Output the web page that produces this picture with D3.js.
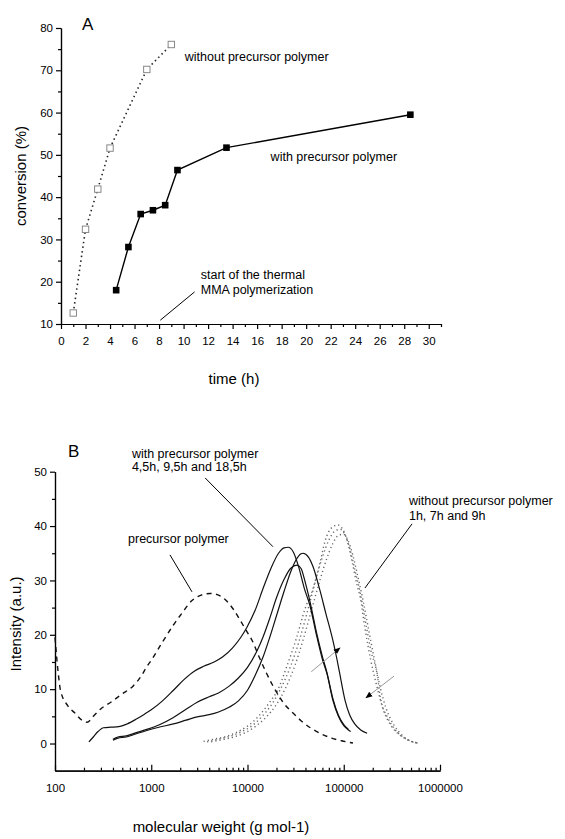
<!DOCTYPE html>
<html>
<head>
<meta charset="utf-8">
<script src="https://cdn.jsdelivr.net/npm/d3@7"></script>
<style>
body { margin: 0; background: #fff; }
svg { display: block; font-family: "Liberation Sans", Arial, sans-serif; }
.axis path, .axis line { stroke: #000; stroke-width: 1.2; }
.axis text { font-size: 11.5px; fill: #000; font-family: "Liberation Sans", Arial, sans-serif; }
.note { font-size: 12.5px; fill: #000; }
.title { font-size: 15px; fill: #000; }
</style>
</head>
<body>
<div id="chart"></div>
<script>
// ---- panel A: conversion vs time ----
var timeWithout = [1, 2, 3, 4, 7, 9];
var convWithout = [12.6, 32.4, 41.9, 51.6, 70.2, 76.1];
var timeWith = [4.5, 5.5, 6.5, 7.5, 8.5, 9.5, 13.5, 28.5];
var convWith = [18, 28.2, 36, 36.9, 38.1, 46.4, 51.7, 59.5];
var timeMajor = d3.range(0, 31, 2);
var timeMinor = d3.range(1, 32, 2);
var convMajor = d3.range(10, 81, 10);
var convMinor = d3.range(15, 80, 10);

// ---- panel B: GPC traces (molecular weight, intensity) ----
var precursor = [[100,19.5],[108,13],[114,9.8],[135,7],[161,5.6],[190,4.3],[215,3.9],[250,5],[300,6.4],[380,7.6],[496,9.1],[650,10.6],[800,12.6],[903,14.2],[1000,15.3],[1300,18.6],[1700,21.8],[2089,24],[2650,26.3],[3300,27.3],[4100,27.6],[5000,27.3],[6000,26.3],[7200,24.6],[8500,22.5],[10000,20.4],[11140,19],[13000,16.2],[15500,13.2],[18000,10.9],[20270,9.3],[24000,7.3],[29000,5.8],[36000,4.2],[45000,2.9],[58000,1.8],[75000,1],[95000,0.5],[124700,0.1]];
var with45 = [[225,0.3],[250,1.2],[280,2.2],[320,2.9],[380,3.0],[460,3.1],[560,3.6],[700,4.5],[850,5.4],[1000,6.2],[1300,7.8],[1700,9.8],[2200,11.8],[2800,13.3],[3500,14.2],[4500,15.0],[5500,15.9],[7000,17.6],[8500,19.5],[9870,21.4],[12000,24.5],[14500,28.5],[17500,32.2],[21000,35.0],[24000,36.0],[26500,36.1],[30000,35.2],[34000,32.5],[39000,28.5],[44800,25.2],[52000,20],[60000,15.5],[67000,12.8],[77000,8],[88000,5],[100000,3.3],[112000,2.5],[118000,2.2]];
var with95 = [[400,0.8],[450,1.2],[550,1.4],[700,2.0],[900,2.6],[1200,3.4],[1700,4.8],[2300,6.3],[3000,7.6],[4000,8.6],[5000,9.3],[6500,10.6],[8000,12.0],[10000,14.0],[12600,17.1],[14500,19.6],[17000,23],[20000,26.8],[24000,30.2],[28000,32.2],[32700,32.8],[36000,32.2],[40000,29.5],[45000,25.8],[52000,20.5],[60000,16],[67000,13],[77000,8.3],[88000,5.2],[100000,3.5],[112000,2.6]];
var with185 = [[400,0.6],[450,1.0],[550,1.2],[700,1.8],[900,2.4],[1200,3.0],[1700,3.6],[2300,4.3],[3000,4.9],[4000,5.3],[5000,5.8],[6500,6.7],[8000,7.8],[10000,9.8],[12000,12.5],[14500,15.9],[17000,19.5],[20000,23.5],[24000,28],[28000,31.5],[32000,33.8],[36000,34.9],[37700,35.0],[43000,34.3],[48000,32.5],[56500,28.2],[65000,24],[77000,19],[85000,15.5],[91000,12.8],[103000,8],[115000,5.3],[130000,3.6],[150000,2.5],[175000,1.9]];
var without1 = [[3500,0.4],[4500,0.8],[6000,1.3],[8000,2.2],[10000,3.2],[13000,5.0],[17000,7.6],[20270,9.6],[26000,14.5],[32000,19.2],[40000,25],[47900,28.5],[57000,33.5],[63900,37.2],[76000,39.8],[87500,40.2],[96000,39.6],[108000,37.5],[122000,33.5],[138000,29],[148000,27],[165000,21.5],[190000,15.5],[221000,10.5],[260000,6],[310000,3.3],[380000,1.6],[470000,0.6],[580000,0.1]];
var without7 = [[3800,0.3],[5000,0.8],[6500,1.3],[8500,2.1],[11000,3.2],[14000,4.9],[18000,7.3],[22000,10],[28000,14.2],[35000,19.3],[43000,25],[51000,30],[60000,34.3],[70000,37.4],[81000,39.1],[92000,39.4],[103000,38.4],[116000,35.8],[131000,31.8],[148000,27.8],[168000,22.5],[192000,17],[221000,13],[240000,8.5],[285000,4.8],[340000,2.6],[420000,1.1],[520000,0.3],[620000,0]];
var without9 = [[4200,0.3],[5500,0.7],[7200,1.2],[9500,2.0],[12000,3.1],[15500,4.8],[20000,7.2],[25000,10.3],[31000,14.3],[38000,19.2],[47000,25],[56000,29.8],[66000,33.8],[77000,36.8],[88000,38.3],[99000,38.5],[111000,37.3],[125000,34.5],[141000,30.5],[160000,26],[182000,20.8],[208000,15.5],[238000,10.5],[275000,6.5],[330000,3.5],[400000,1.6],[490000,0.5],[600000,0.1]];
var mwMajor = [100, 1000, 10000, 100000, 1000000];
var mwMinor = [];
mwMajor.slice(0, 4).forEach(function (m) {
    d3.range(2, 10).forEach(function (k) { mwMinor.push(m * k); });
});
var intMajor = d3.range(0, 51, 10);
var intMinor = d3.range(5, 50, 10);

var svg = d3.select("#chart").append("svg")
    .attr("width", 565)
    .attr("height", 839);

svg.append("defs").append("marker")
    .attr("id", "head")
    .attr("viewBox", "0 0 10 10")
    .attr("refX", 9).attr("refY", 5)
    .attr("markerWidth", 7).attr("markerHeight", 7)
    .attr("orient", "auto")
    .append("path")
    .attr("d", "M0,1L10,5L0,9Z")
    .attr("fill", "#000");

// ================= panel A =================
var xA = d3.scaleLinear().domain([0, 31]).range([61, 441]);
var yA = d3.scaleLinear().domain([10, 80]).range([324, 28]);

var gA = svg.append("g");

gA.append("g").attr("class", "axis")
    .attr("transform", "translate(0," + yA(10) + ")")
    .call(d3.axisBottom(xA).tickValues(timeMinor).tickSize(3).tickFormat("").tickSizeOuter(0));
gA.append("g").attr("class", "axis")
    .attr("transform", "translate(0," + yA(10) + ")")
    .call(d3.axisBottom(xA).tickValues(timeMajor).tickSize(5).tickPadding(8).tickSizeOuter(0));
gA.append("g").attr("class", "axis")
    .attr("transform", "translate(" + xA(0) + ",0)")
    .call(d3.axisLeft(yA).tickValues(convMinor).tickSize(3).tickFormat("").tickSizeOuter(0));
gA.append("g").attr("class", "axis")
    .attr("transform", "translate(" + xA(0) + ",0)")
    .call(d3.axisLeft(yA).tickValues(convMajor).tickSize(5).tickPadding(3).tickSizeOuter(0));

var lineA = d3.line()
    .x(function (d) { return xA(d[0]); })
    .y(function (d) { return yA(d[1]); });

var ptsWithout = timeWithout.map(function (t, i) { return [t, convWithout[i]]; });
var ptsWith = timeWith.map(function (t, i) { return [t, convWith[i]]; });

gA.append("path")
    .attr("d", lineA(ptsWithout))
    .attr("fill", "none")
    .attr("stroke", "#222")
    .attr("stroke-width", 1.6)
    .attr("stroke-dasharray", "1.5,3.2");

gA.append("path")
    .attr("d", lineA(ptsWith))
    .attr("fill", "none")
    .attr("stroke", "#000")
    .attr("stroke-width", 1.4);

gA.selectAll(".openSq")
    .data(ptsWithout)
    .enter().append("rect")
    .attr("class", "openSq")
    .attr("x", function (d) { return xA(d[0]) - 3.2; })
    .attr("y", function (d) { return yA(d[1]) - 3.2; })
    .attr("width", 6.4).attr("height", 6.4)
    .attr("fill", "#fff")
    .attr("stroke", "#888")
    .attr("stroke-width", 1);

gA.selectAll(".fullSq")
    .data(ptsWith)
    .enter().append("rect")
    .attr("class", "fullSq")
    .attr("x", function (d) { return xA(d[0]) - 3.3; })
    .attr("y", function (d) { return yA(d[1]) - 3.3; })
    .attr("width", 6.6).attr("height", 6.6)
    .attr("fill", "#000");

// pointer for the thermal start
gA.append("line")
    .attr("x1", xA(8.1)).attr("y1", yA(10.9))
    .attr("x2", xA(10.9)).attr("y2", yA(17.6))
    .attr("stroke", "#000").attr("stroke-width", 1);

var notesA = [
    { t: "without precursor polymer", x: 10.1, y: 72.1 },
    { t: "with precursor polymer", x: 17.1, y: 48.6 },
    { t: "start of the thermal", x: 11.4, y: 20.6 },
    { t: "MMA polymerization", x: 11.4, y: 17.1 }
];
gA.selectAll(".noteA")
    .data(notesA)
    .enter().append("text")
    .attr("class", "note")
    .attr("x", function (d) { return xA(d.x); })
    .attr("y", function (d) { return yA(d.y); })
    .text(function (d) { return d.t; });

gA.append("text").attr("x", 82).attr("y", 30)
    .style("font-size", "17px").text("A");
gA.append("text").attr("class", "title")
    .attr("transform", "translate(26," + yA(45) + ") rotate(-90)")
    .attr("text-anchor", "middle")
    .text("conversion (%)");
gA.append("text").attr("class", "title")
    .attr("x", 234).attr("y", 384)
    .attr("text-anchor", "middle")
    .text("time (h)");

// ================= panel B =================
var xB = d3.scaleLog().domain([100, 1000000]).range([55, 440]);
var yB = d3.scaleLinear().domain([-5, 50]).range([770.7, 471.7]);

var gB = svg.append("g");

gB.append("g").attr("class", "axis")
    .attr("transform", "translate(0," + yB(-5) + ")")
    .call(d3.axisBottom(xB).tickValues(mwMinor).tickSize(-3).tickFormat("").tickSizeOuter(0));
gB.append("g").attr("class", "axis")
    .attr("transform", "translate(0," + yB(-5) + ")")
    .call(d3.axisBottom(xB).tickValues(mwMajor).tickSize(-6).tickPadding(13)
        .tickFormat(d3.format("d")).tickSizeOuter(0));
gB.append("g").attr("class", "axis")
    .attr("transform", "translate(" + xB(100) + ",0)")
    .call(d3.axisLeft(yB).tickValues(intMinor).tickSize(3).tickFormat("").tickSizeOuter(0));
gB.append("g").attr("class", "axis")
    .attr("transform", "translate(" + xB(100) + ",0)")
    .call(d3.axisLeft(yB).tickValues(intMajor).tickSize(5).tickPadding(3).tickSizeOuter(0));

var lineB = d3.line()
    .x(function (d) { return xB(d[0]); })
    .y(function (d) { return yB(d[1]); })
    .curve(d3.curveMonotoneX);

[without1, without7, without9].forEach(function (s) {
    gB.append("path")
        .attr("d", lineB(s))
        .attr("fill", "none")
        .attr("stroke", "#666")
        .attr("stroke-width", 1.4)
        .attr("stroke-dasharray", "1.2,3");
});

gB.append("path")
    .attr("d", lineB(precursor))
    .attr("fill", "none")
    .attr("stroke", "#111")
    .attr("stroke-width", 1.4)
    .attr("stroke-dasharray", "5,4.5");

[with45, with95, with185].forEach(function (s) {
    gB.append("path")
        .attr("d", lineB(s))
        .attr("fill", "none")
        .attr("stroke", "#111")
        .attr("stroke-width", 1.2);
});

// gray arrows showing the time evolution
var arrowsB = [
    { x1: 46000, y1: 13.2, x2: 91400, y2: 17.6 },
    { x1: 333000, y1: 12.4, x2: 170000, y2: 8.4 }
];
gB.selectAll(".arrow")
    .data(arrowsB)
    .enter().append("line")
    .attr("class", "arrow")
    .attr("x1", function (d) { return xB(d.x1); })
    .attr("y1", function (d) { return yB(d.y1); })
    .attr("x2", function (d) { return xB(d.x2); })
    .attr("y2", function (d) { return yB(d.y2); })
    .attr("stroke", "#999")
    .attr("stroke-width", 1)
    .attr("marker-end", "url(#head)");

// pointer lines to the labels
var pointersB = [
    { x1: 3630, y1: 48.85, x2: 18400, y2: 36.2 },
    { x1: 1565, y1: 34.7, x2: 2650, y2: 27.9 },
    { x1: 512000, y1: 40.4, x2: 166000, y2: 28.6 }
];
gB.selectAll(".pointer")
    .data(pointersB)
    .enter().append("line")
    .attr("x1", function (d) { return xB(d.x1); })
    .attr("y1", function (d) { return yB(d.y1); })
    .attr("x2", function (d) { return xB(d.x2); })
    .attr("y2", function (d) { return yB(d.y2); })
    .attr("stroke", "#000")
    .attr("stroke-width", 1);

var notesB = [
    { t: "with precursor polymer", x: 630, y: 52.6 },
    { t: "4,5h, 9,5h and 18,5h", x: 630, y: 50.1 },
    { t: "precursor polymer", x: 574, y: 36.9 },
    { t: "without precursor polymer", x: 476000, y: 43.9 },
    { t: "1h, 7h and 9h", x: 476000, y: 41.1 }
];
gB.selectAll(".noteB")
    .data(notesB)
    .enter().append("text")
    .attr("class", "note")
    .attr("x", function (d) { return xB(d.x); })
    .attr("y", function (d) { return yB(d.y); })
    .text(function (d) { return d.t; });

gB.append("text").attr("x", 68).attr("y", 457)
    .style("font-size", "17px").text("B");
gB.append("text").attr("class", "title")
    .attr("transform", "translate(21," + yB(22) + ") rotate(-90)")
    .attr("text-anchor", "middle")
    .text("Intensity (a.u.)");
gB.append("text").attr("class", "title")
    .attr("x", 221).attr("y", 832)
    .attr("text-anchor", "middle")
    .text("molecular weight (g mol-1)");
</script>
</body>
</html>
